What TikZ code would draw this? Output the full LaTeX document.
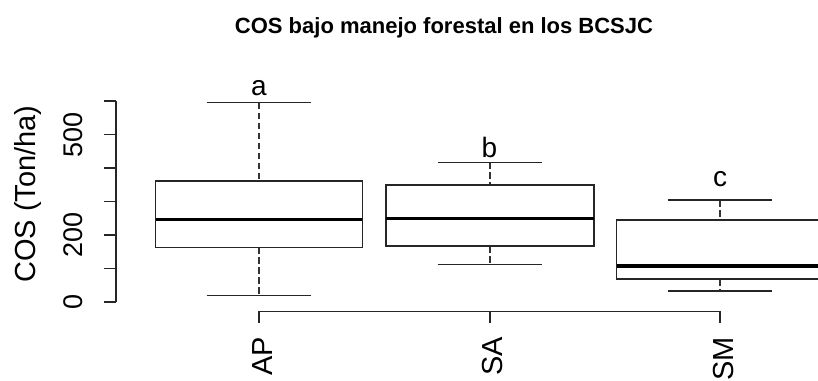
\documentclass[tikz,border=0pt]{standalone}
\usepackage{fontspec}
\setmainfont{Liberation Sans}
\begin{document}
\begin{tikzpicture}[x=1pt,y=-1pt,
  thin line/.style={draw=black!85,line width=1.3pt},
  boxrect/.style={thin line,fill=white},
  medianline/.style={draw=black,line width=3.3pt},
  whisk/.style={draw=black!80,line width=1.3pt,dash pattern=on 6.5pt off 3.5pt},
  capline/.style={thin line},
  axisline/.style={draw=black!85,line width=1.3pt},
  ticklab/.style={font=\fontsize{27}{30}\selectfont,rotate=90,anchor=base,inner sep=0pt},
  grouplab/.style={font=\fontsize{29}{32}\selectfont,rotate=90,anchor=base east,inner sep=0pt},
  letterlab/.style={font=\fontsize{28}{30}\selectfont,anchor=base,inner sep=0pt}]
\useasboundingbox (0,0) rectangle (818,380);
\clip (0,0) rectangle (818,380);
\fill[white] (0,0) rectangle (818,380);

% title
\node[font=\bfseries\fontsize{22}{26}\selectfont,anchor=base,inner sep=0pt] (title) at (444,33) {COS bajo manejo forestal en los BCSJC};

% y axis
\draw[axisline] (116,101) -- (116,302);
\foreach \yy in {101,134.5,168,201.5,235,268.5,302}
  \draw[axisline] (104,\yy) -- (116,\yy);
\node[ticklab] (t0) at (82,302) {0};
\node[ticklab] (t200) at (82,235) {200};
\node[ticklab] (t500) at (82,134.5) {500};
\node[font=\fontsize{29}{32}\selectfont,rotate=90,anchor=base,inner sep=0pt] (ylab) at (35,194) {COS (Ton/ha)};

% x axis
\draw[axisline] (259,323) -- (259,311.5) -- (720,311.5) -- (720,323);
\draw[axisline] (490,311.5) -- (490,323);
\node[grouplab] (gAP) at (272,337) {AP};
\node[grouplab] (gSA) at (502,337) {SA};
\node[grouplab] (gSM) at (733,337) {SM};

% AP box
\draw[whisk] (259,102.7) -- (259,181);
\draw[whisk] (259,247.3) -- (259,295.3);
\draw[capline] (206.7,102.7) -- (311.3,102.7);
\draw[capline] (206.7,295.3) -- (311.3,295.3);
\draw[boxrect] (155.7,181) rectangle (362.3,247.3);
\draw[medianline] (155.7,219.3) -- (362.3,219.3);
\node[letterlab] (la) at (259,95) {a};

% SA box
\draw[whisk] (490,162.3) -- (490,185);
\draw[whisk] (490,246) -- (490,264.7);
\draw[capline] (437.7,162.3) -- (541.7,162.3);
\draw[capline] (437.7,264.7) -- (541.7,264.7);
\draw[boxrect] (386,185) rectangle (594,246);
\draw[medianline] (386,218.3) -- (594,218.3);
\node[letterlab] (lb) at (489.5,157.3) {b};

% SM box
\draw[whisk] (720,200) -- (720,220);
\draw[whisk] (720,279) -- (720,291);
\draw[capline] (667.7,200) -- (772.3,200);
\draw[capline] (667.7,291) -- (772.3,291);
\draw[boxrect] (616.7,220) rectangle (823,279);
\draw[medianline] (616.7,266) -- (823,266);
\node[letterlab] (lc) at (720,186.7) {c};
\end{tikzpicture}
\end{document}
